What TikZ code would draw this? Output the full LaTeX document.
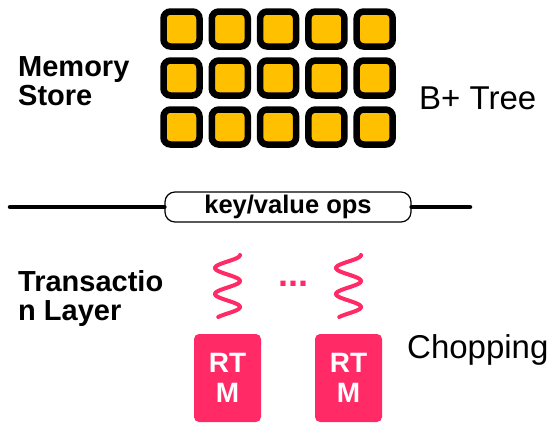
\documentclass[tikz,border=0pt]{standalone}
\usepackage{fontspec}
\setmainfont{Liberation Sans}
\definecolor{cellyellow}{RGB}{255,192,0}
\definecolor{rtmpink}{RGB}{255,42,102}
\tikzset{
  cellbox/.style={draw=black, line width=6.5pt, fill=cellyellow, rounded corners=7pt,
    minimum width=36pt, minimum height=35pt, inner sep=0pt},
  rtmbox/.style={fill=rtmpink, rounded corners=5pt, minimum width=67pt, minimum height=88pt,
    inner sep=0pt, text=white, align=center, font=\fontsize{28}{30}\selectfont\bfseries},
  opsbox/.style={draw=black, line width=1.2pt, fill=white, rounded corners=10pt,
    minimum width=246pt, minimum height=30pt, inner sep=0pt,
    font=\fontsize{25.5}{27}\selectfont\bfseries},
  bus/.style={line width=4.5pt, line cap=round},
  lefttext/.style={anchor=base west, align=left, inner sep=0pt, font=\fontsize{29}{29}\selectfont\bfseries},
  sidetext/.style={anchor=base west, inner sep=0pt, font=\fontsize{33}{36}\selectfont},
  wiggle/.style={draw=rtmpink, line width=4pt, line cap=round}
}
\begin{document}
\begin{tikzpicture}[x=1pt, y=-1pt]
  \useasboundingbox (0,0) rectangle (557,424);

  % B+ Baum aus Kacheln
  \foreach \c in {0,...,4}
    \foreach \r in {0,...,2}
      \node[cellbox] (cell-\c-\r) at ({181.5+48.3*\c},{29+49*\r}) {};

  % Beschriftungen
  \node[lefttext] (memory) at (18,105) {Memory\\Store};
  \node[sidetext] (btree) at (419,109) {B+ Tree};

  % Schnittstelle
  \coordinate (busL) at (10,207);
  \coordinate (busR) at (470,207);
  \node[opsbox] (ops) at (288,207) {key/value ops};
  \draw[bus] (busL) -- (ops.west);
  \draw[bus] (ops.east) -- (busR);

  % Transaktionsschicht
  \node[lefttext] (txn) at (18,320) {Transactio\\n Layer};
  \node[sidetext] (chop) at (407,358) {Chopping};

  % Threads
  \draw[wiggle] plot[variable=\t, domain=0:62, samples=90, smooth]
    ({227.5+12.5*cos(\t*13.846)},{255+\t});
  \draw[wiggle] plot[variable=\t, domain=0:62, samples=90, smooth]
    ({348.5+12.5*cos(\t*13.846)},{255+\t});
  \node[text=rtmpink, font=\fontsize{36}{36}\selectfont\bfseries, inner sep=0pt, anchor=base] (dots) at (293,286) {...};

  % RTM-Bloecke
  \node[rtmbox] (rtm1) at (227.5,378) {RT\\M};
  \node[rtmbox] (rtm2) at (348.5,378) {RT\\M};
\end{tikzpicture}
\end{document}
